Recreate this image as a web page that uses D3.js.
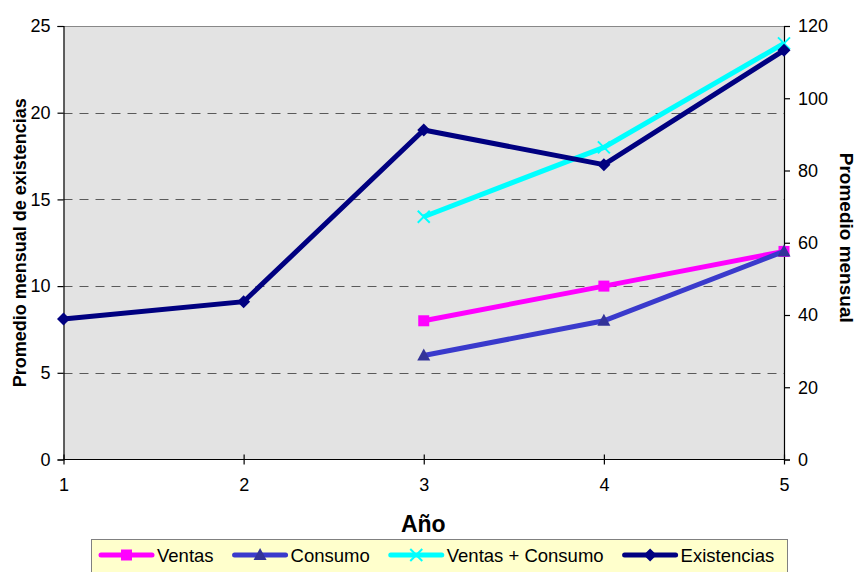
<!DOCTYPE html>
<html>
<head>
<meta charset="utf-8">
<script src="https://cdn.jsdelivr.net/npm/d3@7"></script>
<style>
  html, body { margin: 0; padding: 0; background: #ffffff; }
  svg { display: block; font-family: "Liberation Sans", Arial, sans-serif; }
</style>
</head>
<body>
<svg id="chart" width="856" height="572"></svg>
<script>
// Yearly monthly averages
const years = [1, 2, 3, 4, 5];
const ventas = [null, null, 8, 10, 12];
const consumo = [null, null, 6, 8, 12];
const ventasConsumo = [null, null, 14, 18, 24];
const existencias = [8.1, 9.1, 19, 17, 23.6];

const leftTicks = [0, 5, 10, 15, 20, 25];
const rightTicks = [0, 20, 40, 60, 80, 100, 120];
const gridValues = [5, 10, 15, 20];

const seriesNames = ["Ventas", "Consumo", "Ventas + Consumo", "Existencias"];

const svg = d3.select("#chart");

const plot = { left: 63.5, right: 784, top: 26, bottom: 459.5 };

const x = d3.scaleLinear().domain([1, 5]).range([plot.left, plot.right]);
const yLeft = d3.scaleLinear().domain([0, 25]).range([plot.bottom, plot.top]);
const yRight = d3.scaleLinear().domain([0, 120]).range([plot.bottom, plot.top]);

// plot area
svg.append("rect")
  .attr("x", plot.left).attr("y", plot.top)
  .attr("width", plot.right - plot.left).attr("height", plot.bottom - plot.top)
  .attr("fill", "#e3e3e3");
svg.append("line")
  .attr("x1", plot.left).attr("x2", plot.right)
  .attr("y1", plot.top + 0.5).attr("y2", plot.top + 0.5)
  .attr("stroke", "#888").attr("stroke-width", 1);

// dashed gridlines
svg.append("g").selectAll("line").data(gridValues).join("line")
  .attr("x1", plot.left).attr("x2", plot.right)
  .attr("y1", d => Math.round(yLeft(d)) + 0.5).attr("y2", d => Math.round(yLeft(d)) + 0.5)
  .attr("stroke", "#5a5a5a").attr("stroke-width", 1)
  .attr("stroke-dasharray", "9,7");

const tickFont = 18;

// left axis
const axL = svg.append("g").attr("transform", `translate(${plot.left},0)`)
  .call(d3.axisLeft(yLeft).tickValues(leftTicks).tickSize(6).tickPadding(7));
// right axis
const axR = svg.append("g").attr("transform", `translate(${plot.right},0)`)
  .call(d3.axisRight(yRight).tickValues(rightTicks).tickSize(6).tickPadding(8));
// bottom axis with ticks crossing the baseline
const axB = svg.append("g").attr("transform", `translate(0,${plot.bottom})`)
  .call(d3.axisBottom(x).tickValues(years).tickFormat(d3.format("d")).tickSizeInner(5).tickSizeOuter(0).tickPadding(14));
axB.selectAll(".tick line").attr("y1", -5);

[axL, axR, axB].forEach(a => {
  a.selectAll(".domain").attr("stroke", "#000").attr("stroke-width", 1.2);
  a.selectAll(".tick line").attr("stroke", "#000").attr("stroke-width", 1.2);
  a.selectAll("text").attr("font-size", tickFont).attr("fill", "#000")
    .attr("font-family", "Liberation Sans, Arial, sans-serif");
});
axB.select(".domain").attr("d", `M${plot.left},0H${plot.right}`);

// series lines
const line = d3.line()
  .defined(d => d.v !== null)
  .x(d => x(d.year))
  .y(d => yLeft(d.v));

const series = [
  { name: seriesNames[0], values: ventas, line: "#ff00ff", mark: "#ff00ff", shape: "square" },
  { name: seriesNames[1], values: consumo, line: "#3a3acc", mark: "#333399", shape: "triangle" },
  { name: seriesNames[2], values: ventasConsumo, line: "#00ffff", mark: "#00ffff", shape: "x" },
  { name: seriesNames[3], values: existencias, line: "#000080", mark: "#000080", shape: "diamond" }
];

function drawMarker(g, shape, color) {
  if (shape === "square") {
    g.append("rect").attr("x", -5.5).attr("y", -5.5).attr("width", 11).attr("height", 11).attr("fill", color);
  } else if (shape === "triangle") {
    g.append("path").attr("d", "M0,-7L6.5,5L-6.5,5Z").attr("fill", color);
  } else if (shape === "x") {
    g.append("path").attr("d", "M-6,-6L6,6M-6,6L6,-6").attr("stroke", color).attr("stroke-width", 2).attr("fill", "none");
  } else if (shape === "diamond") {
    g.append("path").attr("d", "M0,-6.5L6.5,0L0,6.5L-6.5,0Z").attr("fill", color);
  }
}

series.forEach(s => {
  const pts = years.map((yr, i) => ({ year: yr, v: s.values[i] }));
  svg.append("path").datum(pts)
    .attr("d", line)
    .attr("fill", "none")
    .attr("stroke", s.line)
    .attr("stroke-width", 5)
    .attr("stroke-linejoin", "miter");
  pts.filter(d => d.v !== null).forEach(d => {
    const g = svg.append("g").attr("transform", `translate(${x(d.year)},${yLeft(d.v)})`);
    drawMarker(g, s.shape, s.mark);
  });
});

// axis titles
svg.append("text")
  .attr("transform", `translate(26,${(plot.top + plot.bottom) / 2}) rotate(-90)`)
  .attr("text-anchor", "middle")
  .attr("font-size", 18).attr("font-weight", "bold")
  .text("Promedio mensual de existencias");

svg.append("text")
  .attr("transform", `translate(840,${(plot.top + plot.bottom) / 2 - 5}) rotate(90)`)
  .attr("text-anchor", "middle")
  .attr("font-size", 19).attr("font-weight", "bold")
  .text("Promedio mensual");

svg.append("text")
  .attr("x", (plot.left + plot.right) / 2 - 0.5).attr("y", 532)
  .attr("text-anchor", "middle")
  .attr("font-size", 23).attr("font-weight", "bold")
  .text("Año");

// legend
const legend = svg.append("g");
legend.append("rect")
  .attr("x", 91.5).attr("y", 539.5).attr("width", 696).attr("height", 40)
  .attr("fill", "#ffffcc").attr("stroke", "#808080").attr("stroke-width", 1);

let lx = 101;
const ly = 555;
series.forEach(s => {
  legend.append("line")
    .attr("x1", lx).attr("x2", lx + 51).attr("y1", ly).attr("y2", ly)
    .attr("stroke", s.line).attr("stroke-width", 5).attr("stroke-linecap", "round");
  const g = legend.append("g").attr("transform", `translate(${lx + 25.5},${ly})`);
  drawMarker(g, s.shape, s.mark);
  const t = legend.append("text")
    .attr("x", lx + 56).attr("y", ly + 7)
    .attr("font-size", 18.5).attr("fill", "#000")
    .text(s.name);
  lx += 56 + t.node().getComputedTextLength() + 21;
});
</script>
</body>
</html>
